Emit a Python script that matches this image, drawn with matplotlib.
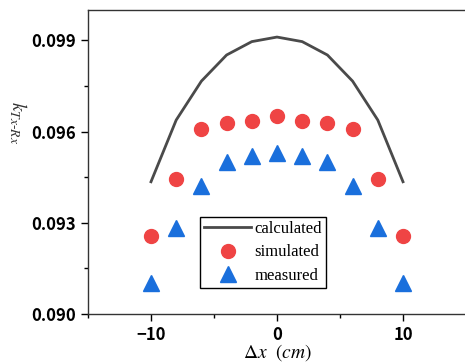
import matplotlib
matplotlib.use("Agg")
import matplotlib.pyplot as plt
from matplotlib.ticker import MultipleLocator, FormatStrFormatter

# offsets (cm)
dx = [-10, -8, -6, -4, -2, 0, 2, 4, 6, 8, 10]

calculated = [0.09435, 0.09638, 0.09766, 0.09852, 0.09896, 0.09911,
              0.09896, 0.09852, 0.09766, 0.09638, 0.09435]
simulated = [0.09256, 0.09445, 0.09610, 0.09627, 0.09634, 0.09652,
             0.09634, 0.09627, 0.09610, 0.09445, 0.09256]
measured = [0.09102, 0.09283, 0.09420, 0.09499, 0.09519, 0.09528,
            0.09519, 0.09499, 0.09420, 0.09283, 0.09102]

legend_labels = ["calculated", "simulated", "measured"]

plt.rcParams["mathtext.fontset"] = "stix"

fig = plt.figure(figsize=(4.65, 3.63), dpi=100)
ax = fig.add_axes([88 / 465, 49 / 363, 378 / 465, 304 / 363])

ax.plot(dx, calculated, color="#4a4a4a", lw=2.0, label=legend_labels[0])
ax.plot(dx, simulated, ls="none", marker="o", ms=10, color="#ef4444",
        label=legend_labels[1])
ax.plot(dx, measured, ls="none", marker="^", ms=11, color="#1a6fdc",
        label=legend_labels[2])

ax.set_xlim(-15, 15)
ax.set_ylim(0.090, 0.100)
ax.xaxis.set_major_locator(MultipleLocator(10))
ax.xaxis.set_minor_locator(MultipleLocator(5))
ax.yaxis.set_major_locator(MultipleLocator(0.003))
ax.yaxis.set_minor_locator(MultipleLocator(0.0015))
ax.yaxis.set_major_formatter(FormatStrFormatter("%.3f"))

ax.tick_params(which="major", length=5, width=1.0, labelsize=12)
ax.tick_params(which="minor", length=3, width=1.0)
for lab in ax.get_xticklabels() + ax.get_yticklabels():
    lab.set_family(["Noto Sans CJK SC", "DejaVu Sans"])
    lab.set_fontweight("bold")

for s in ax.spines.values():
    s.set_color("#333333")
    s.set_linewidth(1.0)

ax.set_xlabel(r"$\Delta x\ \ (cm)$", fontsize=14, labelpad=-1)
ax.set_ylabel(r"$k_{Tx\text{-}Rx}$", fontsize=14, rotation=270, color="#333333")
ax.yaxis.set_label_coords(-0.215, 0.63)

leg = ax.legend(loc="lower left", bbox_to_anchor=(0.297, 0.0855),
                borderaxespad=0, fancybox=False, edgecolor="black",
                framealpha=1, handlelength=2.8, handletextpad=0.2,
                labelspacing=0.45, borderpad=0.25,
                prop={"family": "Liberation Serif", "size": 12})
leg.get_frame().set_linewidth(1.0)

fig.savefig("out.png", dpi=100)
